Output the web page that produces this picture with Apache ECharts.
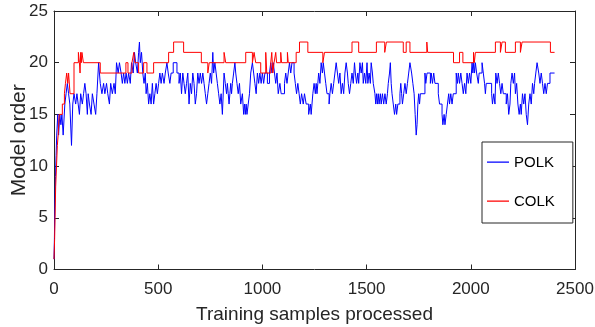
<!DOCTYPE html>
<html>
<head>
<meta charset="utf-8">
<script src="https://cdn.jsdelivr.net/npm/echarts@6/dist/echarts.min.js"></script>
<style>
html,body{margin:0;padding:0;background:#fff;}
#chart{width:595px;height:327px;}
</style>
</head>
<body>
<div id="chart"></div>
<script>
// Axis ticks
var xTicks = [0, 500, 1000, 1500, 2000, 2500];
var yTicks = [0, 5, 10, 15, 20, 25];
var seriesNames = ['POLK', 'COLK'];
var seriesColors = ['#0000ff', '#ff0000'];

// POLK: [sample, model order] change points (value held until next point)
var polkSteps = [
[0,1],[2,3],[4,6],[7,9],[10,11],[13,13],[18,15],[22,13],[28,15],[33,14],[38,15],[44,13],[52,16],[58,17],[64,18],[70,17],[76,16],[84,12],[90,16],[96,17],
[104,16],[110,17],[116,16],[122,15],[128,17],[136,16],[142,17],[148,18],[154,17],[160,15],[164,17],[170,16],[178,15],[184,17],[192,16],[200,15],[206,17],[214,20],[222,18],[230,17],
[238,18],[244,17],[252,18],[258,17],[266,16],[272,18],[280,17],[288,18],[294,17],[300,20],[308,19],[314,20],[322,19],[328,18],[334,19],[340,18],[346,19],[352,18],[358,19],[366,18],
[372,20],[380,19],[386,21],[392,20],[400,19],[406,21],[410,22],[414,20],[420,21],[426,19],[432,18],[438,19],[442,17],[448,18],[454,16],[460,17],[466,16],[472,18],[478,16],[484,17],
[490,18],[496,17],[502,18],[508,19],[514,18],[520,19],[528,18],[534,19],[542,20],[548,19],[556,18],[562,19],[572,20],[590,19],[600,18],[606,19],[612,17],[618,19],[624,18],[630,17],
[636,18],[642,19],[648,16],[654,18],[660,17],[666,19],[672,18],[678,16],[684,17],[690,19],[696,18],[702,19],[708,18],[714,19],[720,18],[726,17],[732,16],[738,17],[744,18],[750,19],
[756,18],[762,21],[766,19],[772,20],[778,19],[784,18],[790,17],[796,16],[802,17],[808,15],[816,19],[822,18],[828,17],[832,18],[836,17],[840,16],[844,17],[848,18],[852,17],[856,18],
[862,19],[868,20],[872,19],[878,18],[884,17],[890,18],[896,16],[904,17],[910,15],[914,16],[918,15],[922,16],[926,15],[932,16],[938,17],[944,19],[952,20],[958,19],[964,18],[970,17],
[976,19],[982,18],[988,19],[994,18],[1000,19],[1006,18],[1012,19],[1018,19],[1024,18],[1034,19],[1040,20],[1046,19],[1052,20],[1058,19],[1064,18],[1070,19],[1076,17],[1084,18],[1090,17],[1106,18],
[1112,19],[1118,18],[1124,19],[1130,20],[1136,19],[1142,20],[1152,19],[1158,18],[1164,17],[1170,18],[1176,17],[1182,16],[1188,17],[1196,16],[1202,17],[1210,16],[1222,15],[1230,16],[1234,15],[1242,17],
[1248,18],[1254,17],[1258,18],[1262,17],[1266,18],[1270,19],[1276,18],[1282,20],[1288,19],[1292,20],[1298,19],[1304,18],[1310,17],[1316,17],[1320,16],[1324,17],[1330,18],[1336,17],[1342,18],[1348,19],
[1354,20],[1360,19],[1366,18],[1372,19],[1378,17],[1384,18],[1390,17],[1396,19],[1402,20],[1408,19],[1412,18],[1418,17],[1424,18],[1430,19],[1436,18],[1442,20],[1446,19],[1452,18],[1458,19],[1462,18],
[1468,20],[1474,19],[1480,20],[1484,18],[1490,19],[1496,18],[1502,20],[1506,18],[1512,19],[1518,18],[1522,20],[1528,19],[1532,18],[1540,17],[1544,16],[1548,17],[1552,16],[1556,17],[1560,16],[1566,17],
[1570,16],[1576,17],[1582,16],[1588,17],[1594,16],[1600,17],[1604,18],[1610,19],[1614,20],[1618,18],[1622,17],[1628,16],[1634,15],[1640,16],[1644,15],[1650,16],[1660,17],[1664,18],[1668,17],[1672,16],
[1678,17],[1684,18],[1690,17],[1696,18],[1702,19],[1708,20],[1716,19],[1722,18],[1728,17],[1733,15],[1738,13],[1742,14],[1746,16],[1750,17],[1754,16],[1758,17],[1780,19],[1784,18],[1790,19],[1806,18],
[1810,19],[1816,18],[1822,19],[1828,18],[1844,17],[1850,16],[1862,15],[1866,14],[1872,15],[1876,14],[1882,15],[1888,16],[1894,17],[1898,16],[1904,17],[1910,16],[1916,17],[1930,19],[1936,18],[1940,19],
[1946,18],[1952,19],[1958,18],[1964,17],[1970,18],[1976,17],[1982,19],[1988,18],[1994,19],[2000,18],[2006,20],[2010,19],[2014,20],[2018,19],[2022,20],[2028,19],[2036,18],[2040,19],[2054,20],[2060,19],
[2066,18],[2070,17],[2074,18],[2100,17],[2104,16],[2110,17],[2116,16],[2120,19],[2126,18],[2132,19],[2138,18],[2144,17],[2150,18],[2156,17],[2170,16],[2176,17],[2182,15],[2188,16],[2192,18],[2198,19],
[2204,18],[2210,19],[2214,17],[2220,18],[2226,16],[2232,15],[2238,16],[2242,15],[2248,17],[2254,16],[2260,17],[2266,15],[2272,14],[2278,16],[2284,17],[2290,16],[2296,18],[2302,17],[2306,18],[2312,19],
[2318,20],[2326,19],[2332,18],[2338,19],[2344,18],[2350,17],[2356,18],[2362,17],[2368,18],[2380,19],[2402,19]
];

// COLK: [sample, model order] change points
var colkSteps = [
[0,1],[3,3],[5,5],[8,8],[12,10],[16,12],[20,13],[25,15],[40,16],[50,17],[55,18],[61,19],[66,18],[70,19],[77,17],[96,20],[117,21],[122,20],[125,19],[128,21],
[131,20],[134,21],[141,20],[222,19],[345,20],[355,19],[374,20],[383,21],[388,20],[406,19],[430,20],[446,19],[478,20],[550,21],[574,22],[622,21],[707,20],[738,19],[745,20],[816,21],
[824,20],[920,21],[952,20],[960,21],[968,20],[992,19],[1016,21],[1021,19],[1040,20],[1045,21],[1050,19],[1056,20],[1064,21],[1068,20],[1088,21],[1092,20],[1120,21],[1124,20],[1162,21],[1178,22],
[1218,21],[1290,20],[1298,21],[1430,22],[1462,21],[1547,22],[1587,21],[1595,22],[1676,21],[1690,22],[1708,21],[1789,22],[1793,21],[1917,20],[1946,21],[1962,20],[2013,21],[2017,20],[2022,21],[2118,22],
[2142,21],[2150,22],[2166,21],[2214,22],[2238,21],[2246,22],[2382,21],[2402,21]
];

var axisColor = '#262626';
var chart = echarts.init(document.getElementById('chart'), null, {renderer: 'canvas'});

function plain(v) { return String(v); }

function xAx(pos, showLabel) {
  return {
    type: 'value', position: pos, min: xTicks[0], max: xTicks[xTicks.length - 1],
    interval: xTicks[1] - xTicks[0],
    name: showLabel ? 'Training samples processed' : '',
    nameLocation: 'middle', nameGap: 36, nameMoveOverlap: false,
    nameTextStyle: {fontFamily: 'Liberation Sans', fontSize: 19, color: axisColor},
    axisLine: {show: true, onZero: false, lineStyle: {color: axisColor, width: 1}},
    axisTick: {show: true, inside: true, length: 5, lineStyle: {color: axisColor}},
    axisLabel: {show: showLabel, fontFamily: 'Liberation Sans', fontSize: 17, color: axisColor, margin: 11, formatter: plain},
    splitLine: {show: false}
  };
}
function yAx(pos, showLabel) {
  return {
    type: 'value', position: pos, min: yTicks[0], max: yTicks[yTicks.length - 1],
    interval: yTicks[1] - yTicks[0],
    name: showLabel ? 'Model order' : '',
    nameLocation: 'middle', nameGap: 24, nameMoveOverlap: false,
    nameTextStyle: {fontFamily: 'Liberation Sans', fontSize: 21, color: axisColor},
    axisLine: {show: true, onZero: false, lineStyle: {color: axisColor, width: 1}},
    axisTick: {show: true, inside: true, length: 5, lineStyle: {color: axisColor}},
    axisLabel: {show: showLabel, fontFamily: 'Liberation Sans', fontSize: 17, color: axisColor, margin: 6, formatter: plain},
    splitLine: {show: false}
  };
}

// legend line icon: thin horizontal bar, tiny corner marks keep the 22x14 box
var lineIcon = 'path://M0,0h0.05v0.05h-0.05z M21.95,13.95h0.05v0.05h-0.05z M0,6h22v1.3h-22z';

chart.setOption({
  animation: false,
  backgroundColor: '#fff',
  grid: {left: 54, right: 20, top: 11, bottom: 57.5, containLabel: false, outerBoundsMode: 'none'},
  xAxis: [xAx('bottom', true), xAx('top', false)],
  yAxis: [yAx('left', true), yAx('right', false)],
  legend: {
    orient: 'vertical', left: 482, top: 142,
    padding: [13, 18, 14, 5],
    itemWidth: 22, itemHeight: 14, itemGap: 24,
    icon: lineIcon,
    itemStyle: {borderWidth: 0},
    backgroundColor: '#fff', borderColor: axisColor, borderWidth: 1,
    textStyle: {fontFamily: 'Liberation Sans', fontSize: 15, color: '#000'},
    data: [
      {name: seriesNames[0], itemStyle: {color: seriesColors[0], borderColor: seriesColors[0], borderWidth: 0}},
      {name: seriesNames[1], itemStyle: {color: seriesColors[1], borderColor: seriesColors[1], borderWidth: 0}}
    ]
  },
  series: [
    {name: seriesNames[0], type: 'line', step: 'end', data: polkSteps, symbol: 'none', showSymbol: false,
     color: seriesColors[0], lineStyle: {color: seriesColors[0], width: 1}, itemStyle: {color: seriesColors[0]}, xAxisIndex: 0, yAxisIndex: 0},
    {name: seriesNames[1], type: 'line', step: 'end', data: colkSteps, symbol: 'none', showSymbol: false,
     color: seriesColors[1], lineStyle: {color: seriesColors[1], width: 1}, itemStyle: {color: seriesColors[1]}, xAxisIndex: 0, yAxisIndex: 0}
  ]
});
</script>
</body>
</html>
